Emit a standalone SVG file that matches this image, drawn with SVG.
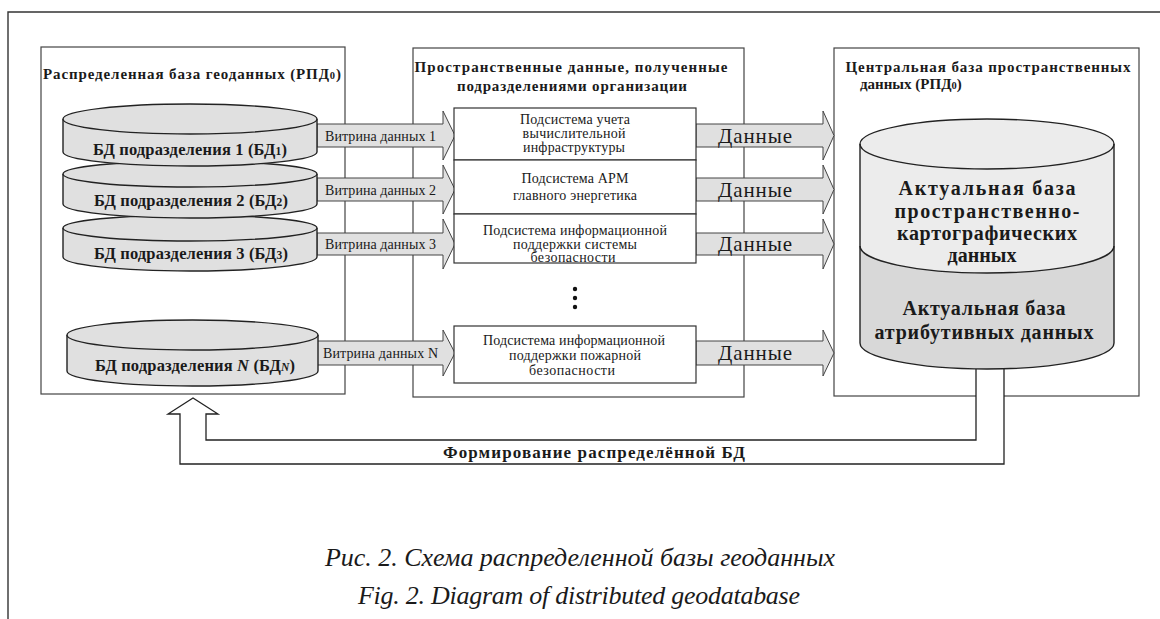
<svg xmlns="http://www.w3.org/2000/svg" width="1160" height="619" viewBox="0 0 1160 619">
<style>
text{font-family:"Liberation Serif","Times New Roman",serif;fill:#1a1a1a}
.b{font-weight:bold}
.c{text-anchor:middle}
.frame{fill:none;stroke:#333;stroke-width:1.4}
.box{fill:#fff;stroke:#444;stroke-width:1.2}
.ibox{fill:#fff;stroke:#333;stroke-width:1.2}
.cyl{fill:#e0e0e0;stroke:#222;stroke-width:1.4}
.arr{fill:#e0e0e0;stroke:#444;stroke-width:1}
.fb{fill:#fff;stroke:#222;stroke-width:1.3}
.ttl{font-size:15px;font-weight:bold}
.cl{font-size:16.5px;font-weight:bold}
.vt{font-size:14px}
.dt{font-size:21px}
.it{font-size:14px}
.big{font-size:20px;font-weight:bold}
.cap{font-size:26px;font-style:italic}
.sub{font-size:70%}
</style>

<g id="frame">
<path class="frame" d="M8,619 V12 H1160"/>
</g>

<g id="left-container">
<rect class="box" x="41" y="47" width="304" height="347"/>
<text class="ttl c" x="192" y="79" textLength="298">Распределенная база геоданных (РПД<tspan class="sub">0</tspan>)</text>
</g>

<g id="middle-container">
<rect class="box" x="413" y="48" width="331" height="349"/>
<text class="ttl c" x="571" y="72" textLength="313">Пространственные данные, полученные</text>
<text class="ttl c" x="572" y="91" textLength="230">подразделениями организации</text>
</g>

<g id="right-container">
<rect class="box" x="834" y="48" width="305" height="348"/>
<text class="ttl c" x="988" y="72" textLength="285">Центральная база пространственных</text>
<text class="ttl" x="860" y="89">данных (РПД<tspan class="sub">0</tspan>)</text>
</g>

<g id="connectors">
<polygon class="arr" points="317,124 443,124 443,111 455,135.5 443,160 443,147 317,147"/>
<polygon class="arr" points="317,178 443,178 443,165 455,189.5 443,214 443,201 317,201"/>
<polygon class="arr" points="317,233 443,233 443,219 455,244 443,269 443,255 317,255"/>
<polygon class="arr" points="317,341 443,341 443,330 455,353 443,376 443,365 317,365"/>
<polygon class="arr" points="696,124 823,124 823,111 834,135.5 823,160 823,147 696,147"/>
<polygon class="arr" points="696,178 823,178 823,165 834,189.5 823,214 823,201 696,201"/>
<polygon class="arr" points="696,233 823,233 823,219 834,244 823,269 823,255 696,255"/>
<polygon class="arr" points="696,341 823,341 823,330 834,353 823,376 823,365 696,365"/>
<polygon class="fb" points="976,360 976,440 206,440 206,414 218,414 193,398 168,414 180,414 180,464 1004,464 1004,360"/>
<text class="vt" x="325" y="140.5" textLength="111">Витрина данных 1</text>
<text class="vt" x="325" y="194.5" textLength="111">Витрина данных 2</text>
<text class="vt" x="325" y="249" textLength="111">Витрина данных 3</text>
<text class="vt" x="323" y="358" textLength="115">Витрина данных N</text>
<text class="dt" x="718" y="142.5" textLength="74">Данные</text>
<text class="dt" x="718" y="196.5" textLength="74">Данные</text>
<text class="dt" x="718" y="251" textLength="74">Данные</text>
<text class="dt" x="718" y="360" textLength="74">Данные</text>
<text class="b c" x="594" y="458" font-size="17" textLength="302">Формирование распределённой БД</text>
</g>

<g id="db-n">
<path class="cyl" d="M67,335 V371 A125.5,15 0 0 0 318,371 V335"/>
<ellipse class="cyl" cx="192.5" cy="335" rx="125.5" ry="15"/>
<text class="cl c" x="195" y="371" textLength="200">БД подразделения <tspan font-style="italic">N</tspan> (БД<tspan class="sub" font-style="italic">N</tspan>)</text>
</g>

<g id="db-3">
<path class="cyl" d="M63,228 V257 A127,14 0 0 0 317,257 V228"/>
<ellipse class="cyl" cx="190" cy="228" rx="127" ry="13"/>
<text class="cl c" x="191" y="259" textLength="194">БД подразделения 3 (БД<tspan class="sub">3</tspan>)</text>
</g>

<g id="db-2">
<path class="cyl" d="M63,174 V204 A127,14 0 0 0 317,204 V174"/>
<ellipse class="cyl" cx="190" cy="174" rx="127" ry="13"/>
<text class="cl c" x="191" y="206" textLength="194">БД подразделения 2 (БД<tspan class="sub">2</tspan>)</text>
</g>

<g id="db-1">
<path class="cyl" d="M63,119 V152 A127,14 0 0 0 317,152 V119"/>
<ellipse class="cyl" cx="190" cy="119" rx="127" ry="15"/>
<text class="cl c" x="190" y="155" textLength="194">БД подразделения 1 (БД<tspan class="sub">1</tspan>)</text>
</g>

<g id="subsystem-1">
<rect class="ibox" x="454" y="108" width="242" height="52"/>
<text class="it c" x="575" y="124" textLength="110">Подсистема учета</text>
<text class="it c" x="574" y="138" textLength="103">вычислительной</text>
<text class="it c" x="574" y="152" textLength="102">инфраструктуры</text>
</g>

<g id="subsystem-2">
<rect class="ibox" x="454" y="160" width="242" height="54"/>
<text class="it c" x="575" y="183" textLength="107">Подсистема АРМ</text>
<text class="it c" x="575" y="200" textLength="124">главного энергетика</text>
</g>

<g id="subsystem-3">
<rect class="ibox" x="454" y="214" width="242" height="49"/>
<text class="it c" x="575" y="235" textLength="184">Подсистема информационной</text>
<text class="it c" x="575" y="248.5" textLength="124">поддержки системы</text>
<text class="it c" x="573" y="262" textLength="85">безопасности</text>
</g>

<g id="ellipsis">
<circle cx="575" cy="289" r="2.2" fill="#111"/>
<circle cx="575" cy="298" r="2.2" fill="#111"/>
<circle cx="575" cy="307" r="2.2" fill="#111"/>
</g>

<g id="subsystem-n">
<rect class="ibox" x="454" y="326" width="242" height="57"/>
<text class="it c" x="574" y="345" textLength="182">Подсистема информационной</text>
<text class="it c" x="575" y="360" textLength="132">поддержки пожарной</text>
<text class="it c" x="572" y="375" textLength="86">безопасности</text>
</g>

<g id="central-db">
<path d="M860,144 V343 A127,26 0 0 0 1114,343 V144 Z" fill="#d8d8d8" stroke="none"/>
<path d="M860,144 V246 A127,27 0 0 0 1114,246 V144 Z" fill="#ececec" stroke="none"/>
<ellipse cx="987" cy="144" rx="127" ry="25" fill="#ececec" stroke="#222" stroke-width="1.4"/>
<path d="M860,144 V343 A127,26 0 0 0 1114,343 V144" fill="none" stroke="#222" stroke-width="1.4"/>
<path d="M860,246 A127,27 0 0 0 1114,246" fill="none" stroke="#222" stroke-width="1.4"/>
<text class="big c" x="987" y="195" textLength="177">Актуальная база</text>
<text class="big c" x="987" y="217.5" textLength="185">пространственно-</text>
<text class="big c" x="987" y="240" textLength="180">картографических</text>
<text class="big c" x="982" y="262">данных</text>
<text class="big c" x="984" y="315" textLength="163">Актуальная база</text>
<text class="big c" x="984" y="339" textLength="219">атрибутивных данных</text>
</g>

<g id="caption">
<text class="cap c" x="580" y="566" textLength="510">Рис. 2. Схема распределенной базы геоданных</text>
<text class="cap c" x="579" y="604" textLength="442">Fig. 2. Diagram of distributed geodatabase</text>
</g>
</svg>
